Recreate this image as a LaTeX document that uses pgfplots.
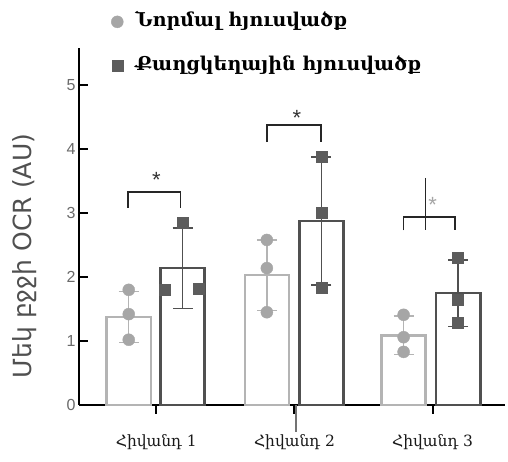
\documentclass[border=0pt]{standalone}
\usepackage{pgfplots}
\pgfplotsset{compat=1.18}
\usepackage{fontspec}
\setmainfont{Liberation Sans}
\newfontfamily\armserif{DejaVu Serif}
\newfontfamily\armsans{DejaVu Sans}
\definecolor{normpt}{HTML}{A6A6A6}
\definecolor{cancpt}{HTML}{5C5C5C}
\definecolor{normbar}{HTML}{B4B4B4}
\definecolor{cancbar}{HTML}{505050}
\definecolor{txt}{HTML}{505050}
\begin{document}
\begin{tikzpicture}
\path[use as bounding box] (0,0) rectangle (508pt,462pt);
\begin{axis}[
  at={(79pt,57pt)}, anchor=south west,
  scale only axis, width=426pt, height=357pt,
  xmin=0.44, xmax=3.524, ymin=0, ymax=5.58,
  clip=false,
  axis x line*=bottom, axis y line*=left,
  axis line style={line width=2pt, black},
  xtick={1,2,3},
  xticklabels={Հիվանդ 1, Հիվանդ 2, Հիվանդ 3},
  xticklabel style={font=\armserif\fontsize{15.5}{18}\selectfont, text=black!90, yshift=-26pt},
  ytick={0,1,2,3,4,5},
  yticklabel style={font=\fontsize{16}{18}\selectfont, text=txt!85},
  /pgf/number format/assume math mode=true,
  tick align=inside,
  major tick length=9pt,
  tick style={line width=2pt, black},
  xtick style={yshift=-9pt},
  ylabel={Մեկ բջջի OCR (AU)},
  ylabel style={font=\armsans\fontsize{25}{27}\selectfont, text=txt, at={(axis description cs:-0.127,0.417)}, anchor=center},
  legend style={at={(axis description cs:0.066,1.106)}, anchor=north west, draw=none, fill=none,
    font=\armserif\bfseries\fontsize{19}{22}\selectfont, row sep=25pt, legend cell align=left,
    nodes={inner xsep=5pt, inner ysep=0pt, text height=14pt, text depth=5pt}},
  legend image code/.code={\path[draw=none, fill=none] (0pt,-3pt) rectangle (20pt,3pt); \draw[#1] plot coordinates {(7pt,0pt)};},
]
% bars with error bars
\addplot[ybar, bar width=0.32, bar shift=0pt, draw=normbar, fill=white, line width=2.5pt, forget plot,
  error bars/.cd, y dir=both, y explicit,
  error bar style={normbar, line width=1.5pt},
  error mark options={rotate=90, mark size=10pt, normbar, line width=1.5pt}]
  coordinates {(0.80,1.375) +- (0,0.40) (1.80,2.03) +- (0,0.55) (2.79,1.09) +- (0,0.30)};
\addplot[ybar, bar width=0.32, bar shift=0pt, draw=cancbar, fill=white, line width=2.5pt, forget plot,
  error bars/.cd, y dir=both, y explicit,
  error bar style={cancbar, line width=1.5pt},
  error mark options={rotate=90, mark size=10pt, cancbar, line width=1.5pt}]
  coordinates {(1.19,2.14) +- (0,0.63) (2.195,2.875) +- (0,1.0) (3.185,1.75) +- (0,0.52)};
% individual points
\addplot[only marks, mark=*, mark size=6pt, color=normpt]
  coordinates {(0.80,1.80) (0.80,1.42) (0.80,1.02)
               (1.80,2.58) (1.80,2.14) (1.80,1.45)
               (2.79,1.41) (2.79,1.06) (2.79,0.83)};
\addlegendentry{Նորմալ հյուսվածք}
\addplot[only marks, mark=square*, mark size=5.5pt, color=cancpt]
  coordinates {(1.19,2.85) (1.058,1.80) (1.306,1.82)
               (2.195,3.88) (2.195,3.00) (2.195,1.84)
               (3.185,2.31) (3.185,1.64) (3.185,1.28)};
\addlegendentry{Քաղցկեղային հյուսվածք}
% significance brackets
\addplot[black!85, line width=1.8pt, forget plot] coordinates {(0.796,3.08) (0.796,3.33) (1.175,3.33) (1.175,3.08)};
\addplot[black!85, line width=1.8pt, forget plot] coordinates {(1.80,4.11) (1.80,4.375) (2.193,4.375) (2.193,4.11)};
\addplot[black!85, line width=1.8pt, forget plot] coordinates {(2.789,2.73) (2.789,2.94) (3.16,2.94) (3.16,2.73)};
\addplot[black!85, line width=1.8pt, forget plot] coordinates {(2.949,3.55) (2.949,2.73)};
\node[font=\fontsize{22}{22}\selectfont, text=black!80] at (axis cs:1.0,3.52) {*};
\node[font=\fontsize{22}{22}\selectfont, text=black!80] at (axis cs:2.018,4.49) {*};
\node[font=\fontsize{22}{22}\selectfont, text=black!35] at (axis cs:3.0,3.13) {*};
% scan artefact below the second tick
\addplot[black!55, line width=2pt, forget plot] coordinates {(2.01,0) (2.01,-0.42)};
\end{axis}
\end{tikzpicture}
\end{document}
